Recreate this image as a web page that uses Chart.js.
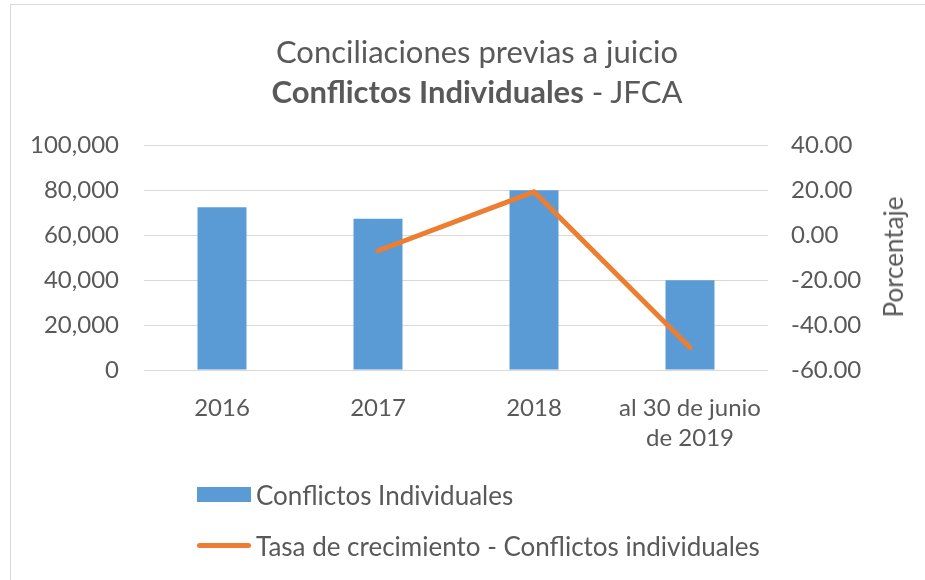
<!DOCTYPE html>
<html>
<head>
<meta charset="utf-8">
<script src="https://cdn.jsdelivr.net/npm/chart.js@4"></script>
<style>
  body { margin: 0; background: #fff; font-family: Lato, sans-serif; color: #595959; }
  .wrap { position: relative; width: 925px; height: 580px; overflow: hidden; }
  .frame { position: absolute; left: 10px; top: 4px; width: 940px; height: 600px; border: 1px solid #d9d9d9; }
  canvas { position: absolute; left: 0; top: 0; }
  .title { position: absolute; left: 177px; width: 600px; text-align: center; font-size: 31px; line-height: 37px; white-space: nowrap; }
  .ytitle { position: absolute; left: 893px; top: 257px; font-size: 26px; transform: translate(-50%, -50%) rotate(-90deg); white-space: nowrap; }
  .legend { position: absolute; left: 197px; top: 469px; font-size: 26px; }
  .legend div { height: 51px; display: flex; align-items: center; }
  .legend span.box { display: inline-block; width: 54px; margin-right: 5px; }
</style>
</head>
<body>
<div class="wrap">
  <div class="frame"></div>
  <canvas id="chart" width="925" height="580"></canvas>
  <div class="title" style="top:33px">Conciliaciones previas a juicio</div>
  <div class="title" style="top:73px"><b>Conflictos Individuales</b> - JFCA</div>
  <div class="ytitle">Porcentaje</div>
  <div class="legend" id="legend"></div>
</div>
<script>
// ===============data=================//
const categories = ["2016", "2017", "2018", ["al 30 de junio", "de 2019"]];
const conflictos = [72300, 67200, 79900, 39900];
const tasa = [null, -7.0, 19.2, -50.0];
const leftTicks = [0, 100000, 20000];   // min, max, step
const rightTicks = [-60, 40, 20];

Chart.defaults.font.family = "Lato";
Chart.defaults.font.size = 24;
Chart.defaults.color = "#595959";

const chart = new Chart(document.getElementById("chart"), {
  type: "bar",
  data: {
    labels: categories,
    datasets: [
      {
        type: "line",
        label: "Tasa de crecimiento - Conflictos individuales",
        data: tasa,
        yAxisID: "y1",
        borderColor: "#ed7d31",
        backgroundColor: "#ed7d31",
        borderWidth: 5,
        borderCapStyle: "round",
        borderJoinStyle: "round",
        pointRadius: 0,
        order: 0
      },
      {
        label: "Conflictos Individuales",
        data: conflictos,
        yAxisID: "y",
        backgroundColor: "#5b9bd5",
        barPercentage: 0.314,
        categoryPercentage: 1,
        order: 1
      }
    ]
  },
  options: {
    responsive: false,
    animation: false,
    layout: { padding: { top: 145, left: 0, right: 0, bottom: 0 } },
    plugins: { legend: { display: false }, title: { display: false }, tooltip: { enabled: false } },
    scales: {
      x: {
        grid: { display: false },
        border: { display: false },
        ticks: { padding: 15, maxRotation: 0, font: { size: 24, lineHeight: 1.25 } },
        afterFit: s => { s.height = 210; }
      },
      y: {
        position: "left",
        min: leftTicks[0], max: leftTicks[1],
        ticks: { stepSize: leftTicks[2], padding: 25, callback: v => v.toLocaleString("en-US") },
        grid: { color: "#d9d9d9", drawTicks: false },
        border: { display: false },
        afterFit: s => { s.width = 144; }
      },
      y1: {
        position: "right",
        min: rightTicks[0], max: rightTicks[1],
        ticks: { stepSize: rightTicks[2], padding: 23, callback: v => v.toFixed(2) },
        grid: { display: false, drawTicks: false },
        border: { display: false },
        afterFit: s => { s.width = 157; }
      }
    }
  }
});

//===========legend=======================/
const legend = document.getElementById("legend");
[chart.data.datasets[1], chart.data.datasets[0]].forEach(ds => {
  const row = document.createElement("div");
  const mark = ds.type === "line"
    ? `<span class="box" style="height:5px;border-radius:3px;background:${ds.borderColor}"></span>`
    : `<span class="box" style="height:15px;background:${ds.backgroundColor}"></span>`;
  row.innerHTML = mark + ds.label;
  legend.appendChild(row);
});
</script>
</body>
</html>
